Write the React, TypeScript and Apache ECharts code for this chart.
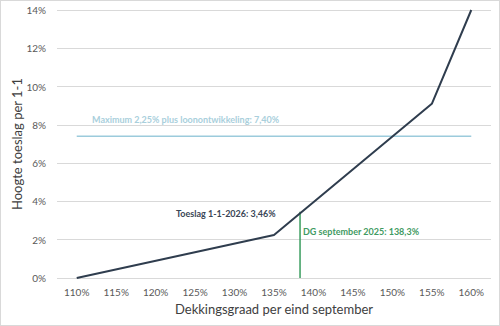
import React, { useEffect, useRef } from "react";
import * as echarts from "echarts";

const xTicks = [110, 115, 120, 125, 130, 135, 140, 145, 150, 155, 160];
const dgPoints = [110, 135, 155, 160];
const toeslagValues = [0, 2.25, 9.1, 14];
const maxRange = [110, 160];
const maxValue = 7.4;
const dgCurrent = 138.3;
const toeslagCurrent = 3.46;

const FONT = "Lato";

export default function App() {
  const ref = useRef<HTMLDivElement>(null);
  useEffect(() => {
    document.body.style.margin = "0";
    const chart = echarts.init(ref.current!, null, { renderer: "svg" });
    chart.setOption({
      animation: false,
      backgroundColor: "#ffffff",
      grid: { left: 57, right: 9, top: 10, bottom: 48, outerBoundsMode: "none", containLabel: false },
      xAxis: {
        type: "value",
        min: 107.5,
        max: 162.5,
        name: "Dekkingsgraad per eind september",
        nameLocation: "middle",
        nameGap: 24,
        nameMoveOverlap: false,
        nameTextStyle: { fontFamily: FONT, fontSize: 13, color: "#404040" },
        axisLine: { show: false },
        axisTick: { show: false },
        splitLine: { show: false },
        axisLabel: {
          customValues: xTicks,
          formatter: (v: number) => v + "%",
          fontFamily: FONT,
          fontSize: 10,
          color: "#595959",
          margin: 9,
        },
      },
      yAxis: {
        type: "value",
        min: 0,
        max: 14,
        interval: 2,
        name: "Hoogte toeslag per 1-1",
        nameLocation: "middle",
        nameGap: 34,
        nameMoveOverlap: false,
        nameTextStyle: { fontFamily: FONT, fontSize: 13, color: "#404040" },
        axisLine: { show: false },
        axisTick: { show: false },
        splitLine: { lineStyle: { color: "#d9d9d9", width: 1 } },
        axisLabel: {
          formatter: "{value}%",
          fontFamily: FONT,
          fontSize: 10,
          color: "#595959",
          margin: 11,
        },
      },
      series: [
        {
          type: "line",
          data: maxRange.map((x) => [x, maxValue]),
          symbol: "none",
          lineStyle: { color: "#9ccbdc", width: 1.5 },
          z: 2,
        },
        {
          type: "line",
          data: [
            [dgCurrent, 0],
            [dgCurrent, toeslagCurrent],
          ],
          symbol: "none",
          lineStyle: { color: "#3a9d5f", width: 1.5 },
          z: 3,
        },
        {
          type: "line",
          data: dgPoints.map((x, i) => [x, toeslagValues[i]]),
          symbol: "none",
          lineStyle: { color: "#2f3d4e", width: 2 },
          z: 4,
        },
      ],
      graphic: [
        {
          type: "text",
          left: 92,
          top: 115,
          style: {
            text: "Maximum 2,25% plus loonontwikkeling: 7,40%",
            fontFamily: FONT,
            fontSize: 9,
            fontWeight: "bold",
            fill: "#a9cfdc",
          },
        },
        {
          type: "text",
          left: 176,
          top: 209,
          style: {
            text: "Toeslag 1-1-2026: 3,46%",
            fontFamily: FONT,
            fontSize: 9,
            fontWeight: "bold",
            fill: "#3a4656",
          },
        },
        {
          type: "text",
          left: 303,
          top: 227,
          style: {
            text: "DG september 2025: 138,3%",
            fontFamily: FONT,
            fontSize: 9,
            fontWeight: "bold",
            fill: "#3f9a62",
          },
        },
      ],
    });
    return () => chart.dispose();
  }, []);
  return (
    <div style={{ position: "fixed", left: 0, top: 0, width: 500, height: 326 }}>
      <div ref={ref} style={{ position: "absolute", left: 0, top: 0, width: 500, height: 326 }} />
      <div
        style={{
          position: "absolute",
          left: 0,
          top: 0,
          width: 500,
          height: 326,
          boxSizing: "border-box",
          border: "1px solid #d9d9d9",
          pointerEvents: "none",
        }}
      />
    </div>
  );
}
